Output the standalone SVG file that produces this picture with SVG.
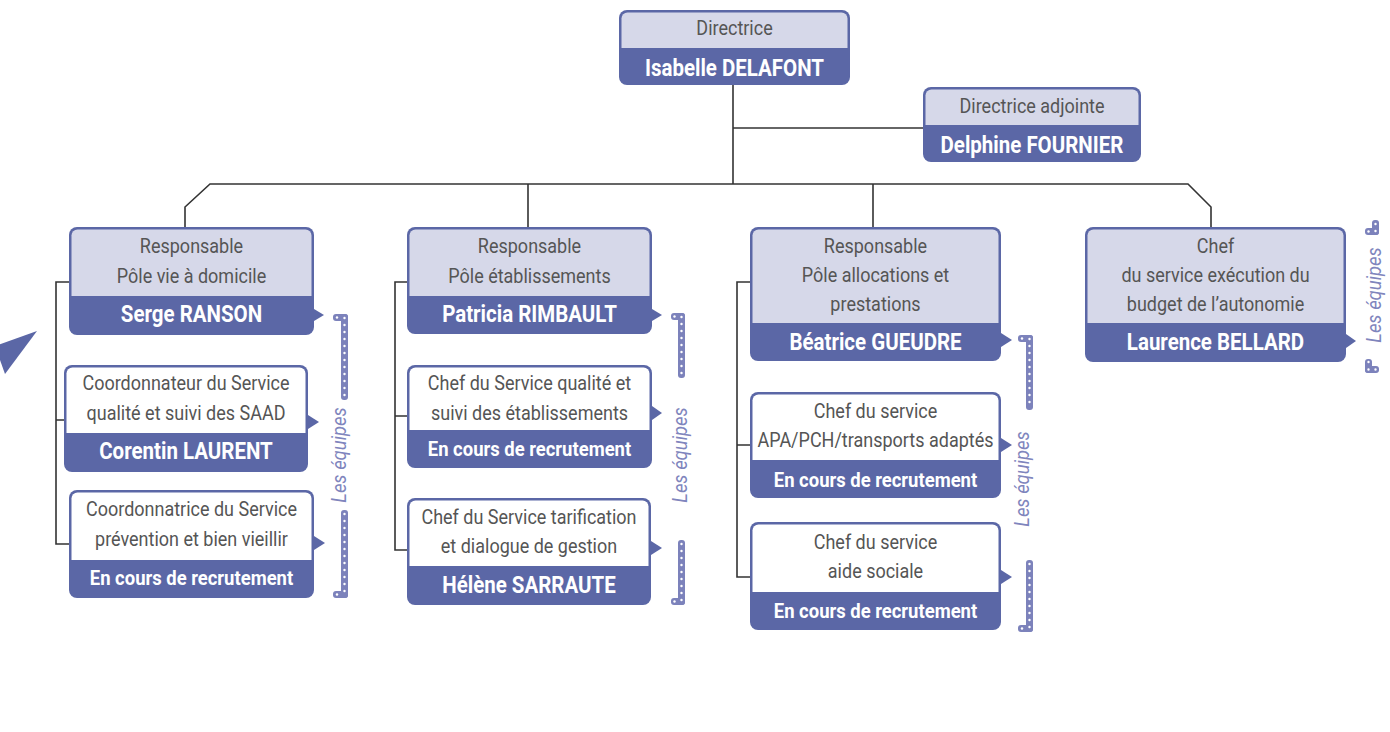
<svg xmlns="http://www.w3.org/2000/svg" width="1390" height="732" viewBox="0 0 1390 732">
<style>
.bg{fill:#ffffff}
.dk{fill:#5B67A6}
.lt{fill:#D6D8E9}
.wh{fill:#ffffff}
.role{font-family:Roboto,"Liberation Sans",sans-serif;font-size:19.5px;fill:#555555;text-anchor:middle}
.name{font-family:Roboto,"Liberation Sans",sans-serif;font-size:23.5px;font-weight:bold;fill:#ffffff;text-anchor:middle}
.rec{font-family:Roboto,"Liberation Sans",sans-serif;font-size:20.5px;font-weight:bold;fill:#ffffff;text-anchor:middle}
.eq{font-family:Roboto,"Liberation Sans",sans-serif;font-size:20.5px;font-style:italic;fill:#7F85BD;text-anchor:middle}
.bar{fill:#7C82BB}
.dots{stroke:#ffffff;stroke-width:2.4;stroke-linecap:round;stroke-dasharray:0 7;fill:none}
.conn{fill:none;stroke:#333333;stroke-width:1.6}
</style>
<rect class="bg" x="0" y="0" width="1390" height="732"/>

<polygon class="dk" points="-5,346 37,331 5,374"/>

<g id="connectors">
<path class="conn" d="M733 85 V184"/>
<path class="conn" d="M733 128 H923"/>
<path class="conn" d="M185 227 V207 L210 184 H1188 L1211 207 V227"/>
<path class="conn" d="M528 184 V227"/>
<path class="conn" d="M873 184 V227"/>
<path class="conn" d="M69 282 H56 V544 H69 M56 420 H64"/>
<path class="conn" d="M407 282 H395 V550 H407 M395 416 H407"/>
<path class="conn" d="M750 282 H737 V577 H750 M737 445 H750"/>
</g>

<g id="n-directrice">
<rect class="dk" x="619" y="10" width="231" height="75" rx="8"/>
<rect class="lt" x="621.5" y="12.5" width="226" height="45" rx="6"/>
<rect class="dk" x="619" y="48" width="231" height="29"/>
<text class="role" transform="translate(734.5 35) scale(0.923 1)">Directrice</text>
<text class="name" transform="translate(734.5 76) scale(0.872 1)">Isabelle DELAFONT</text>
</g>

<g id="n-adjointe">
<rect class="dk" x="923" y="87" width="218" height="75" rx="8"/>
<rect class="lt" x="925.5" y="89.5" width="213" height="45" rx="6"/>
<rect class="dk" x="923" y="125" width="218" height="29"/>
<text class="role" transform="translate(1032 113) scale(0.923 1)">Directrice adjointe</text>
<text class="name" transform="translate(1032 153) scale(0.872 1)">Delphine FOURNIER</text>
</g>

<g id="n-vie-domicile">
<rect class="dk" x="69" y="227" width="245" height="108" rx="8"/>
<rect class="lt" x="71.5" y="229.5" width="240" height="76" rx="6"/>
<rect class="dk" x="69" y="296" width="245" height="31"/>
<polygon class="dk" points="314,309 324,315 314,321"/>
<text class="role" transform="translate(191.5 253) scale(0.923 1)">Responsable</text>
<text class="role" transform="translate(191.5 283) scale(0.923 1)">Pôle vie à domicile</text>
<text class="name" transform="translate(191.5 322) scale(0.872 1)">Serge RANSON</text>
</g>

<g id="n-saad">
<rect class="dk" x="64" y="365" width="244" height="107" rx="8"/>
<rect class="wh" x="66.5" y="367.5" width="239" height="75" rx="6"/>
<rect class="dk" x="64" y="433" width="244" height="31"/>
<polygon class="dk" points="308,415 319,422 308,429"/>
<text class="role" transform="translate(186 390) scale(0.923 1)">Coordonnateur du Service</text>
<text class="role" transform="translate(186 420) scale(0.923 1)">qualité et suivi des SAAD</text>
<text class="name" transform="translate(186 459) scale(0.872 1)">Corentin LAURENT</text>
</g>

<g id="n-prevention">
<rect class="dk" x="69" y="490" width="245" height="108" rx="8"/>
<rect class="wh" x="71.5" y="492.5" width="240" height="77" rx="6"/>
<rect class="dk" x="69" y="560" width="245" height="30"/>
<polygon class="dk" points="314,536 325,543 314,550"/>
<text class="role" transform="translate(191.5 516) scale(0.923 1)">Coordonnatrice du Service</text>
<text class="role" transform="translate(191.5 546) scale(0.923 1)">prévention et bien vieillir</text>
<text class="rec" transform="translate(191.5 585) scale(0.9 1)">En cours de recrutement</text>
</g>

<g id="eq-1">
<rect class="bar" x="341" y="314" width="7" height="86" rx="3"/>
<rect class="bar" x="333" y="314" width="15" height="7" rx="3"/>
<line class="dots" x1="344.5" y1="318" x2="344.5" y2="397"/>
<line class="dots" x1="337" y1="317.5" x2="344" y2="317.5"/>
<rect class="bar" x="341" y="510" width="7" height="88" rx="3"/>
<rect class="bar" x="333" y="591" width="15" height="7" rx="3"/>
<line class="dots" x1="344.5" y1="514" x2="344.5" y2="594"/>
<line class="dots" x1="337" y1="594.5" x2="344" y2="594.5"/>
<text class="eq" transform="translate(339 455) rotate(-90) scale(0.9 1)" y="7">Les équipes</text>
</g>

<g id="n-etablissements">
<rect class="dk" x="407" y="227" width="245" height="107" rx="8"/>
<rect class="lt" x="409.5" y="229.5" width="240" height="76" rx="6"/>
<rect class="dk" x="407" y="296" width="245" height="30"/>
<polygon class="dk" points="652,309 662,315 652,321"/>
<text class="role" transform="translate(529.5 253) scale(0.923 1)">Responsable</text>
<text class="role" transform="translate(529.5 283) scale(0.923 1)">Pôle établissements</text>
<text class="name" transform="translate(529.5 322) scale(0.872 1)">Patricia RIMBAULT</text>
</g>

<g id="n-qualite-etab">
<rect class="dk" x="407" y="365" width="245" height="103" rx="8"/>
<rect class="wh" x="409.5" y="367.5" width="240" height="72" rx="6"/>
<rect class="dk" x="407" y="430" width="245" height="30"/>
<polygon class="dk" points="652,406 662,413 652,420"/>
<text class="role" transform="translate(529.5 390) scale(0.923 1)">Chef du Service qualité et</text>
<text class="role" transform="translate(529.5 420) scale(0.923 1)">suivi des établissements</text>
<text class="rec" transform="translate(529.5 456) scale(0.9 1)">En cours de recrutement</text>
</g>

<g id="n-tarification">
<rect class="dk" x="407" y="498" width="244" height="107" rx="8"/>
<rect class="wh" x="409.5" y="500.5" width="239" height="75" rx="6"/>
<rect class="dk" x="407" y="566" width="244" height="31"/>
<polygon class="dk" points="651,541 662,548 651,555"/>
<text class="role" transform="translate(529 524) scale(0.923 1)">Chef du Service tarification</text>
<text class="role" transform="translate(529 553) scale(0.923 1)">et dialogue de gestion</text>
<text class="name" transform="translate(529 593) scale(0.872 1)">Hélène SARRAUTE</text>
</g>

<g id="eq-2">
<rect class="bar" x="678" y="313" width="7" height="65" rx="3"/>
<rect class="bar" x="671" y="313" width="14" height="7" rx="3"/>
<line class="dots" x1="681.5" y1="317" x2="681.5" y2="375"/>
<line class="dots" x1="674.5" y1="316.5" x2="681" y2="316.5"/>
<rect class="bar" x="678" y="540" width="7" height="65" rx="3"/>
<rect class="bar" x="671" y="598" width="14" height="7" rx="3"/>
<line class="dots" x1="681.5" y1="544" x2="681.5" y2="602"/>
<line class="dots" x1="674.5" y1="601.5" x2="681" y2="601.5"/>
<text class="eq" transform="translate(680 455) rotate(-90) scale(0.9 1)" y="7">Les équipes</text>
</g>

<g id="n-allocations">
<rect class="dk" x="750" y="227" width="251" height="134" rx="8"/>
<rect class="lt" x="752.5" y="229.5" width="246" height="103" rx="6"/>
<rect class="dk" x="750" y="323" width="251" height="30"/>
<polygon class="dk" points="1001,333 1012,340 1001,347"/>
<text class="role" transform="translate(875.5 253) scale(0.923 1)">Responsable</text>
<text class="role" transform="translate(875.5 282) scale(0.923 1)">Pôle allocations et</text>
<text class="role" transform="translate(875.5 311) scale(0.923 1)">prestations</text>
<text class="name" transform="translate(875.5 350) scale(0.872 1)">Béatrice GUEUDRE</text>
</g>

<g id="n-apa">
<rect class="dk" x="750" y="392" width="251" height="106" rx="8"/>
<rect class="wh" x="752.5" y="394.5" width="246" height="75" rx="6"/>
<rect class="dk" x="750" y="460" width="251" height="30"/>
<polygon class="dk" points="1001,438 1012,445 1001,452"/>
<text class="role" transform="translate(875.5 418) scale(0.923 1)">Chef du service</text>
<text class="role" transform="translate(875.5 447) scale(0.923 1)">APA/PCH/transports adaptés</text>
<text class="rec" transform="translate(875.5 487) scale(0.9 1)">En cours de recrutement</text>
</g>

<g id="n-aide-sociale">
<rect class="dk" x="750" y="522" width="251" height="108" rx="8"/>
<rect class="wh" x="752.5" y="524.5" width="246" height="77" rx="6"/>
<rect class="dk" x="750" y="592" width="251" height="30"/>
<polygon class="dk" points="1001,570 1012,577 1001,584"/>
<text class="role" transform="translate(875.5 549) scale(0.923 1)">Chef du service</text>
<text class="role" transform="translate(875.5 578) scale(0.923 1)">aide sociale</text>
<text class="rec" transform="translate(875.5 618) scale(0.9 1)">En cours de recrutement</text>
</g>

<g id="eq-3">
<rect class="bar" x="1026" y="335" width="7" height="75" rx="3"/>
<rect class="bar" x="1018" y="335" width="15" height="7" rx="3"/>
<line class="dots" x1="1029.5" y1="339" x2="1029.5" y2="407"/>
<line class="dots" x1="1022" y1="338.5" x2="1029" y2="338.5"/>
<rect class="bar" x="1026" y="560" width="7" height="72" rx="3"/>
<rect class="bar" x="1018" y="625" width="15" height="7" rx="3"/>
<line class="dots" x1="1029.5" y1="564" x2="1029.5" y2="629"/>
<line class="dots" x1="1022" y1="628.5" x2="1029" y2="628.5"/>
<text class="eq" transform="translate(1022 479) rotate(-90) scale(0.9 1)" y="7">Les équipes</text>
</g>

<g id="n-budget">
<rect class="dk" x="1085" y="227" width="261" height="135" rx="8"/>
<rect class="lt" x="1087.5" y="229.5" width="256" height="103" rx="6"/>
<rect class="dk" x="1085" y="323" width="261" height="31"/>
<polygon class="dk" points="1346,334 1356,341 1346,348"/>
<text class="role" transform="translate(1215.5 253) scale(0.923 1)">Chef</text>
<text class="role" transform="translate(1215.5 282) scale(0.923 1)">du service exécution du</text>
<text class="role" transform="translate(1215.5 311) scale(0.923 1)">budget de l’autonomie</text>
<text class="name" transform="translate(1215.5 350) scale(0.872 1)">Laurence BELLARD</text>
</g>

<g id="eq-4">
<rect class="bar" x="1372" y="220" width="7" height="15" rx="3"/>
<rect class="bar" x="1365" y="228" width="14" height="7" rx="3"/>
<line class="dots" x1="1375.5" y1="224" x2="1375.5" y2="232"/>
<line class="dots" x1="1368.5" y1="231.5" x2="1375" y2="231.5"/>
<rect class="bar" x="1365" y="359" width="7" height="14" rx="3"/>
<rect class="bar" x="1365" y="366" width="14" height="7" rx="3"/>
<line class="dots" x1="1368.5" y1="362" x2="1368.5" y2="369"/>
<line class="dots" x1="1368.5" y1="369.5" x2="1376" y2="369.5"/>
<text class="eq" transform="translate(1374 295) rotate(-90) scale(0.9 1)" y="7">Les équipes</text>
</g>
</svg>
